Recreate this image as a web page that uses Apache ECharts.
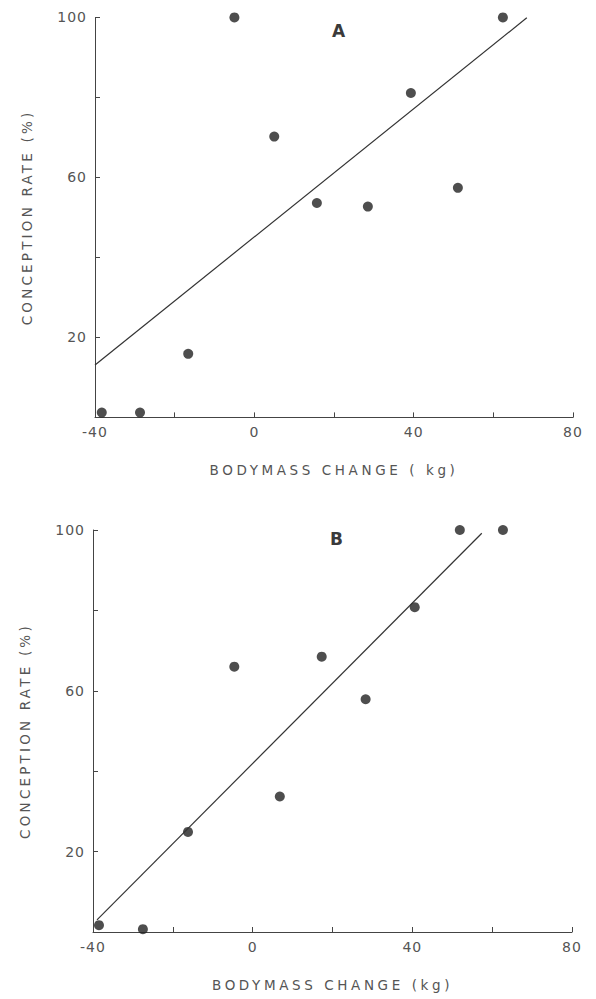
<!DOCTYPE html>
<html><head><meta charset="utf-8">
<script src="https://cdn.jsdelivr.net/npm/echarts@6/dist/echarts.min.js"></script>
<style>html,body{margin:0;padding:0;background:#fff}#c{width:596px;height:999px}</style>
</head><body><div id="c"></div>
<script>
// ---- data ----
const xTickLabels = [-40, 0, 40, 80];
const yTickLabels = [20, 60, 100];
const panelLabels = ['A', 'B'];
const xTitles = ['BODYMASS CHANGE ( kg)', 'BODYMASS CHANGE (kg)'];
const yTitle = 'CONCEPTION RATE (%)';

const aBodymass = [-38.3, -28.7, -16.6, -5.0, 5.0, 15.7, 28.5, 39.3, 51.1, 62.4];
const aConception = [1.2, 1.2, 15.9, 100, 70.2, 53.6, 52.7, 81.1, 57.4, 100];
const aFitX = [-40, 68.4];
const aFitY = [13.1, 99.9];

const bBodymass = [-38.5, -27.5, -16.2, -4.6, 6.8, 17.3, 28.3, 40.6, 51.9, 62.7];
const bConception = [1.7, 0.7, 24.9, 66, 33.7, 68.5, 57.9, 80.8, 100, 100];
const bFitX = [-39, 57.4];
const bFitY = [3.0, 99.2];

// ---- chart ----
const zip = (xs, ys) => xs.map((x, i) => [x, ys[i]]);
const FONT = "'DejaVu Sans', sans-serif";
const TXT = '#555';
const AX = '#444';

function xAxis(i, title) {
  return {
    type: 'value', gridIndex: i, min: -40, max: 80, interval: 20,
    name: title, nameLocation: 'middle', nameGap: 46,
    nameTextStyle: { fontFamily: FONT, fontSize: 13.5, color: TXT },
    axisLine: { show: true, onZero: false, lineStyle: { color: AX, width: 1 } },
    axisTick: { show: true, inside: true, length: 5, lineStyle: { color: AX } },
    axisLabel: { margin: 8, fontFamily: FONT, fontSize: 14, color: TXT,
      formatter: v => xTickLabels.includes(v) ? String(v) : '' },
    splitLine: { show: false }
  };
}
function yAxis(i) {
  return {
    type: 'value', gridIndex: i, min: 0, max: 100, interval: 20,
    name: yTitle, nameLocation: 'middle', nameGap: 61, nameRotate: 90,
    nameTextStyle: { fontFamily: FONT, fontSize: 13.5, color: TXT },
    axisLine: { show: true, onZero: false, lineStyle: { color: AX, width: 1 } },
    axisTick: { show: true, inside: true, length: 5, lineStyle: { color: AX } },
    axisLabel: { margin: 8, fontFamily: FONT, fontSize: 14, color: TXT,
      formatter: v => yTickLabels.includes(v) ? String(v) : '' },
    splitLine: { show: false }
  };
}
function scatter(i, xs, ys) {
  return { type: 'scatter', xAxisIndex: i, yAxisIndex: i, data: zip(xs, ys),
    symbol: 'circle', symbolSize: 10, itemStyle: { color: '#222' }, silent: true };
}
function fit(i, xs, ys) {
  return { type: 'line', xAxisIndex: i, yAxisIndex: i, data: zip(xs, ys),
    symbol: 'none', lineStyle: { color: '#333', width: 1.2 }, silent: true };
}

const chart = echarts.init(document.getElementById('c'), null, { renderer: 'svg' });
chart.setOption({
  animation: false,
  backgroundColor: '#fff',
  title: [
    { text: panelLabels[0], left: 327, top: 17, textStyle: { fontFamily: FONT, fontSize: 17, fontWeight: 'bold', color: '#3a3a3a' } },
    { text: panelLabels[1], left: 325, top: 525, textStyle: { fontFamily: FONT, fontSize: 17, fontWeight: 'bold', color: '#3a3a3a' } }
  ],
  grid: [
    { left: 95, top: 17.4, width: 478, height: 400 },
    { left: 93, top: 530, width: 479, height: 402 }
  ],
  xAxis: [xAxis(0, xTitles[0]), xAxis(1, xTitles[1])],
  yAxis: [yAxis(0), yAxis(1)],
  series: [
    fit(0, aFitX, aFitY), scatter(0, aBodymass, aConception),
    fit(1, bFitX, bFitY), scatter(1, bBodymass, bConception)
  ]
});

function spaceTitles() {
  document.querySelectorAll('#c svg text').forEach(t => {
    const s = t.textContent || '';
    if (s.indexOf('BODYMASS') >= 0) t.style.letterSpacing = '3.6px';
    else if (s.indexOf('CONCEPTION') >= 0) t.style.letterSpacing = '3.2px';
    else if (/^-?\d+$/.test(s)) t.style.letterSpacing = '1px';
  });
}
chart.on('finished', spaceTitles);
spaceTitles();
</script>
</body></html>
